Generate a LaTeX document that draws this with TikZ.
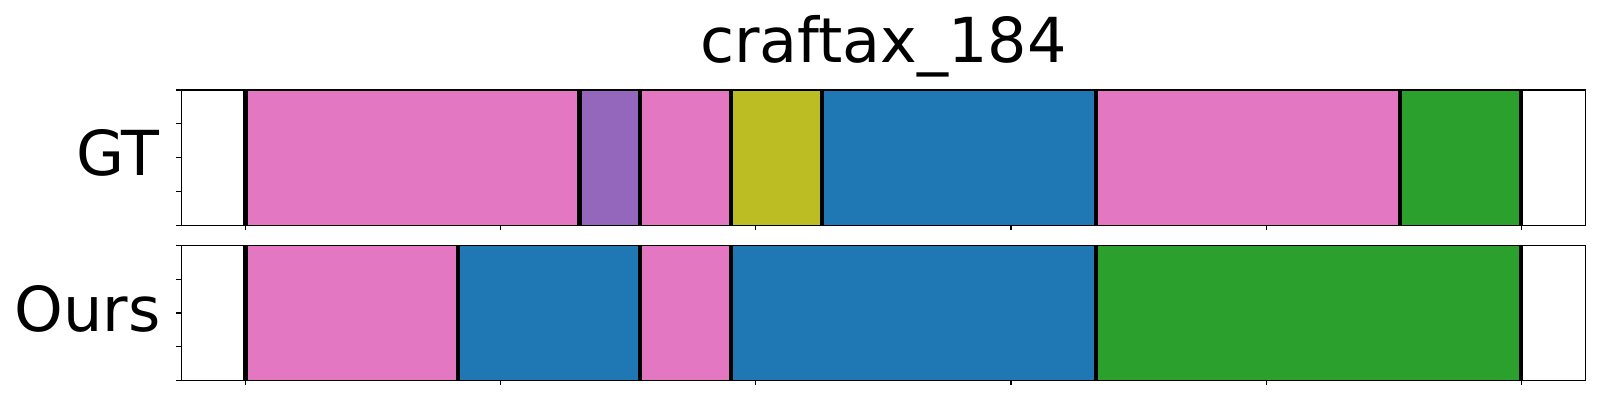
\documentclass[tikz,border=0pt]{standalone}
\usepackage{fontspec}
\setmainfont{DejaVu Sans}

\definecolor{tabpink}{HTML}{E377C2}
\definecolor{tabpurple}{HTML}{9467BD}
\definecolor{tabolive}{HTML}{BCBD22}
\definecolor{tabblue}{HTML}{1F77B4}
\definecolor{tabgreen}{HTML}{2CA02C}

\tikzset{
  axframe/.style={draw=black, line width=1.1pt},
  tickmark/.style={black, line width=0.8pt},
  boundary/.style={black, line width=3.3pt},
  biglabel/.style={font=\fontsize{46.5}{56}\selectfont, inner sep=0pt},
}

\begin{document}
\begin{tikzpicture}[x=0.75pt,y=-0.75pt]
  \useasboundingbox (0,0) rectangle (1600,400);

  % title
  \node[biglabel, anchor=base] (title) at (883.5,62.7) {craftax\_184};

  % GT row
  \foreach \a/\b/\c in {245.5/579.3/tabpink, 579.3/640/tabpurple, 640/731/tabpink,
                        731/822/tabolive, 822/1096.2/tabblue, 1096.2/1399.7/tabpink,
                        1399.7/1520.8/tabgreen}
    \fill[\c] (\a,90) rectangle (\b,225.3);
  \foreach \x in {245.5,579.3,640,731,822,1096.2,1399.7,1520.8}
    \draw[boundary] (\x,90) -- (\x,225.3);
  \draw[axframe] (181.3,90) rectangle (1585.7,225.3);
  \foreach \y in {90,123.8,157.7,191.5,225.3}
    \draw[tickmark] (176.3,\y) -- (181.3,\y);
  \foreach \x in {245.7,500.8,755.9,1011,1266.1,1521.2}
    \draw[tickmark] (\x,225.3) -- (\x,230.3);
  \node[biglabel, anchor=base east] (gt) at (160,175) {GT};

  % Ours row
  \foreach \a/\b/\c in {245.5/458/tabpink, 458/640/tabblue, 640/731/tabpink,
                        731/1096.2/tabblue, 1096.2/1520.8/tabgreen}
    \fill[\c] (\a,245.7) rectangle (\b,380.3);
  \foreach \x in {245.5,458,640,731,1096.2,1520.8}
    \draw[boundary] (\x,245.7) -- (\x,380.3);
  \draw[axframe] (181.3,245.7) rectangle (1585.7,380.3);
  \foreach \y in {245.7,279.3,313,346.7,380.3}
    \draw[tickmark] (176.3,\y) -- (181.3,\y);
  \foreach \x in {245.7,500.8,755.9,1011,1266.1,1521.2}
    \draw[tickmark] (\x,380.3) -- (\x,385.3);
  \node[biglabel, anchor=base east] (ours) at (161,331.5) {Ours};
\end{tikzpicture}
\end{document}
